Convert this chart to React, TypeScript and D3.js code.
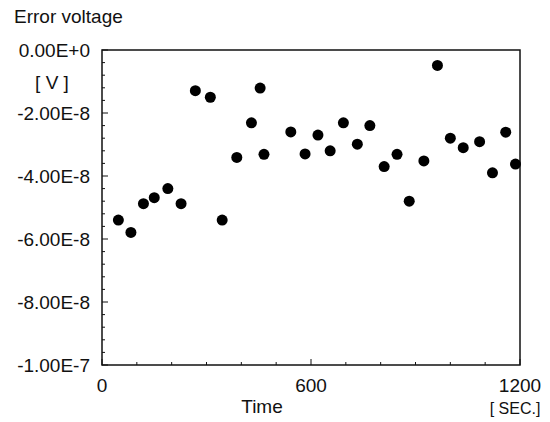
import React from "react";
import * as d3 from "d3";

const times = [47, 83, 119, 150, 189, 227, 268, 311, 345, 387, 429, 454, 465, 542, 583, 620, 655, 693, 733, 769, 810, 847, 882, 924, 963, 1000, 1037, 1084, 1121, 1159, 1187];
const volts = [-5.4e-8, -5.79e-8, -4.88e-8, -4.69e-8, -4.4e-8, -4.88e-8, -1.29e-8, -1.5e-8, -5.4e-8, -3.41e-8, -2.31e-8, -1.21e-8, -3.31e-8, -2.6e-8, -3.3e-8, -2.7e-8, -3.2e-8, -2.31e-8, -2.99e-8, -2.4e-8, -3.7e-8, -3.31e-8, -4.8e-8, -3.52e-8, -0.49e-8, -2.8e-8, -3.1e-8, -2.91e-8, -3.9e-8, -2.61e-8, -3.62e-8];
const yTickValues = [0, -2e-8, -4e-8, -6e-8, -8e-8, -1e-7];
const yTickLabels = ["0.00E+0", "-2.00E-8", "-4.00E-8", "-6.00E-8", "-8.00E-8", "-1.00E-7"];
const xTickValues = [0, 600, 1200];
const xTickLabels = ["0", "600", "1200"];

export default function App() {
  const W = 550, H = 422;
  const L = 102, R = 520, T = 50, B = 365;
  const x = d3.scaleLinear().domain([0, 1200]).range([L, R]);
  const y = d3.scaleLinear().domain([-1e-7, 0]).range([B, T]);
  const font = "'Liberation Sans', Arial, sans-serif";
  const fs = 19;
  const xMinor = d3.range(0, 1201, 100);
  const yMinor = d3.range(0, 26).map((i) => -i * 4e-9);
  return (
    <svg width={W} height={H} style={{ position: "absolute", left: 0, top: 0, background: "#fff" }}>
      <rect x={0} y={0} width={W} height={H} fill="#fff" />
      <g fontFamily={font} fill="#111">
        <text x={14} y={23} fontSize={fs}>Error voltage</text>
        {yTickValues.map((v, i) => (
          <text key={i} x={90} y={y(v)} dy="0.36em" fontSize={fs} textAnchor="end">{yTickLabels[i]}</text>
        ))}
        <text x={52} y={82} dy="0.36em" fontSize={fs} textAnchor="middle">[ V ]</text>
        {xTickValues.map((v, i) => (
          <text key={i} x={x(v)} y={392} fontSize={fs} textAnchor="middle">{xTickLabels[i]}</text>
        ))}
        <text x={262} y={413} fontSize={fs} textAnchor="middle">Time</text>
        <text x={515} y={414} fontSize={16} textAnchor="middle">[ SEC.]</text>
      </g>
      <g stroke="#111" fill="none">
        <rect x={L} y={T} width={R - L} height={B - T} strokeWidth={1.5} />
        {xMinor.map((v) => (
          <line key={"x" + v} x1={x(v)} x2={x(v)} y1={B} y2={B - (v % 600 === 0 ? 6 : 3)} strokeWidth={1} />
        ))}
        {yMinor.map((v, i) => (
          <line key={"y" + i} x1={L} x2={L + (i % 5 === 0 ? 6 : 3)} y1={y(v)} y2={y(v)} strokeWidth={1} />
        ))}
      </g>
      <g fill="#000">
        {times.map((t, i) => (
          <circle key={i} cx={x(t)} cy={y(volts[i])} r={5.5} />
        ))}
      </g>
    </svg>
  );
}
